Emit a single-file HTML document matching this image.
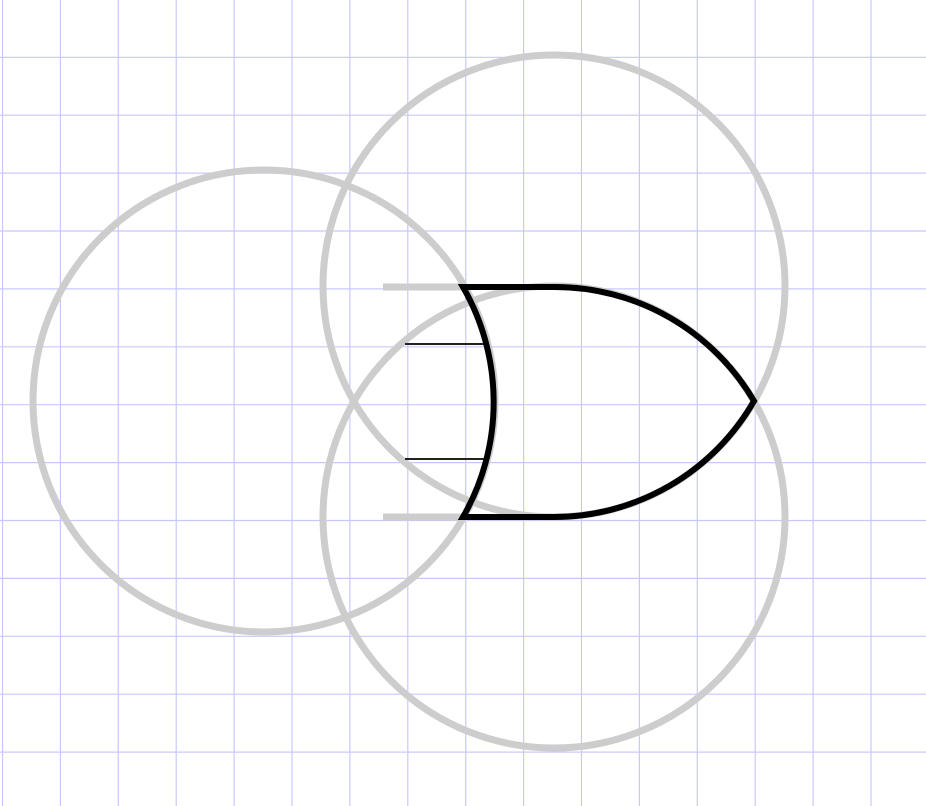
<!DOCTYPE html>
<html><head><meta charset="utf-8"><style>html,body{margin:0;padding:0;background:#fff}svg{display:block}</style></head>
<body>
<svg width="926" height="806" viewBox="0 0 926 806">
<g id="grid" stroke="#c8c8ff" stroke-width="1.2"></g>
<g fill="none" stroke="#cdcdcd" stroke-width="7">
<circle cx="264" cy="401" r="231"/>
<circle cx="554" cy="286" r="231"/>
<circle cx="554" cy="517" r="231"/>
<line x1="383" y1="287" x2="463" y2="287"/>
<line x1="383" y1="517" x2="463" y2="517"/>
</g>
<line x1="405" y1="344" x2="487" y2="344" stroke="#222" stroke-width="2"/>
<line x1="405" y1="459" x2="487" y2="459" stroke="#222" stroke-width="2"/>
<path fill="none" stroke="#000" stroke-width="6" stroke-linejoin="miter"
 d="M463,287 L554,287 A231,231 0 0 1 754,401 A231,231 0 0 1 554,517 L463,517 A231,231 0 0 0 463,287 Z"/>
</svg>
<script>
const g=document.getElementById('grid');
const ns='http://www.w3.org/2000/svg';
for(let i=0;i<17;i++){const x=2.5+57.9*i;const l=document.createElementNS(ns,'line');


l.setAttribute('x1',x);l.setAttribute('x2',x);l.setAttribute('y1',0);l.setAttribute('y2',806);g.appendChild(l);}
for(let i=1;i<15;i++){const y=-0.6+57.9*i;const l=document.createElementNS(ns,'line');


l.setAttribute('y1',y);l.setAttribute('y2',y);l.setAttribute('x1',0);l.setAttribute('x2',926);g.appendChild(l);}
</script>
</body></html>
